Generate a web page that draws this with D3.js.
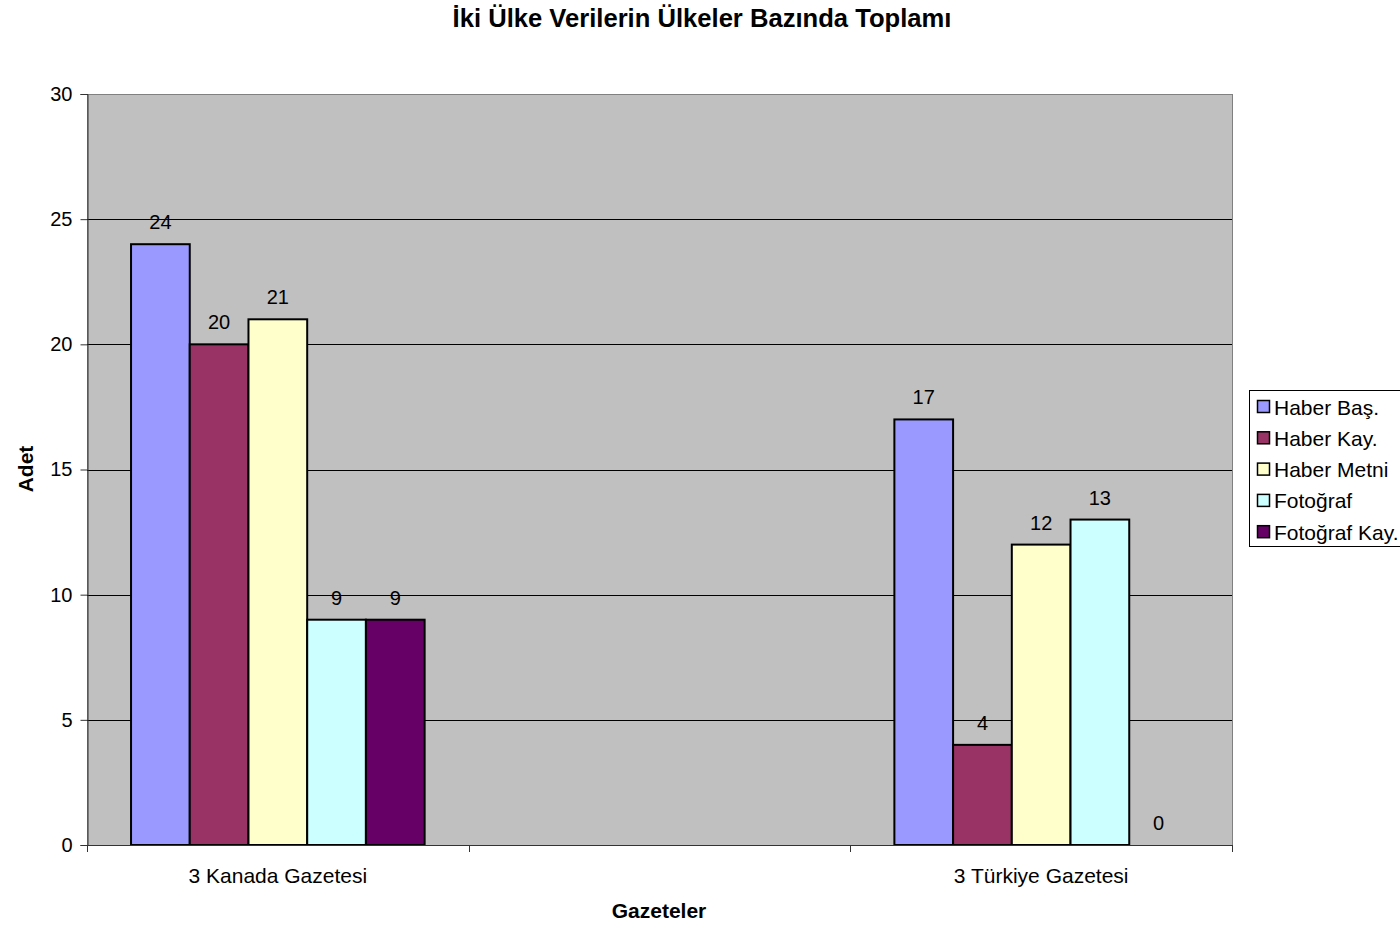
<!DOCTYPE html>
<html>
<head>
<meta charset="utf-8">
<script src="https://cdn.jsdelivr.net/npm/d3@7"></script>
<style>
  html, body { margin: 0; padding: 0; background: #fff; }
  svg { display: block; font-family: "Liberation Sans", Arial, sans-serif; }
</style>
</head>
<body>
<svg id="chart" width="1400" height="926"></svg>
<script>
// Categories (the middle slot is an empty category on the axis)
const categories = ["3 Kanada Gazetesi", "", "3 Türkiye Gazetesi"];
const seriesNames = ["Haber Baş.", "Haber Kay.", "Haber Metni", "Fotoğraf", "Fotoğraf Kay."];
const seriesColors = ["#9999FF", "#993366", "#FFFFCC", "#CCFFFF", "#660066"];
// Values per series: [Kanada, (empty), Türkiye]
const haberBas    = [24, null, 17];
const haberKay    = [20, null, 4];
const haberMetni  = [21, null, 12];
const fotograf    = [9, null, 13];
const fotografKay = [9, null, 0];
const seriesValues = [haberBas, haberKay, haberMetni, fotograf, fotografKay];
const yTicks = [0, 5, 10, 15, 20, 25, 30];

const svg = d3.select("#chart");
const plot = { left: 87, top: 94, right: 1232, bottom: 845 };

const catKeys = categories.map((c, i) => i);
const x0 = d3.scaleBand().domain(catKeys).range([plot.left, plot.right]).paddingInner(0).paddingOuter(0);
// gap width 150% -> inner group occupies 5/(5+1.5) of the category
const groupW = x0.bandwidth() * 5 / 6.5;
const x1 = d3.scaleBand().domain(d3.range(seriesNames.length)).range([0, groupW]).padding(0);
const y = d3.scaleLinear().domain([0, 30]).range([plot.bottom, plot.top]);
const barX = (ci, si) => x0(ci) + (x0.bandwidth() - groupW) / 2 + x1(si);

// Plot background
svg.append("rect")
  .attr("x", plot.left + 0.5).attr("y", plot.top + 0.5)
  .attr("width", plot.right - plot.left).attr("height", plot.bottom - plot.top)
  .attr("fill", "#C0C0C0").attr("stroke", "#808080").attr("stroke-width", 1);

// Gridlines
svg.append("g").selectAll("line").data(yTicks.filter(t => t > 0)).join("line")
  .attr("x1", plot.left).attr("x2", plot.right)
  .attr("y1", d => Math.round(y(d)) + 0.5).attr("y2", d => Math.round(y(d)) + 0.5)
  .attr("stroke", d => d === 30 ? "#808080" : "#000").attr("stroke-width", 1);

// Bars
seriesValues.forEach((vals, si) => {
  svg.append("g").attr("fill", seriesColors[si])
    .selectAll("rect")
    .data(vals.map((v, ci) => ({ v, ci })).filter(d => d.v !== null && d.v > 0))
    .join("rect")
    .attr("x", d => barX(d.ci, si))
    .attr("width", x1.bandwidth())
    .attr("y", d => y(d.v))
    .attr("height", d => y(0) - y(d.v))
    .attr("stroke", "#000").attr("stroke-width", 2);
});

// Data labels
seriesValues.forEach((vals, si) => {
  svg.append("g").selectAll("text")
    .data(vals.map((v, ci) => ({ v, ci })).filter(d => d.v !== null))
    .join("text")
    .attr("x", d => barX(d.ci, si) + x1.bandwidth() / 2)
    .attr("y", d => y(d.v) - 15)
    .attr("text-anchor", "middle")
    .attr("font-size", 20)
    .attr("fill", "#000")
    .text(d => d.v);
});

// Y axis
const yAxis = d3.axisLeft(y).tickValues(yTicks).tickSize(7).tickPadding(8).tickFormat(d3.format("d"));
const yg = svg.append("g").attr("transform", `translate(${plot.left + 0.5},0)`).call(yAxis);
yg.select(".domain").attr("stroke", "#333");
yg.selectAll(".tick line").attr("stroke", "#333");
yg.selectAll(".tick text").attr("font-size", 20).attr("font-family", "Liberation Sans, Arial, sans-serif").attr("fill", "#000");

// X axis: ticks at category boundaries
const boundaries = catKeys.map(k => x0(k)).concat([plot.right]);
const xg = svg.append("g");
xg.append("line").attr("x1", plot.left).attr("x2", plot.right)
  .attr("y1", plot.bottom + 0.5).attr("y2", plot.bottom + 0.5).attr("stroke", "#333");
xg.selectAll("line.tk").data(boundaries).join("line").attr("class", "tk")
  .attr("x1", d => Math.round(d) + 0.5).attr("x2", d => Math.round(d) + 0.5)
  .attr("y1", plot.bottom).attr("y2", plot.bottom + 7).attr("stroke", "#333");
xg.selectAll("text").data(catKeys).join("text")
  .attr("x", d => x0(d) + x0.bandwidth() / 2)
  .attr("y", 883)
  .attr("text-anchor", "middle").attr("font-size", 21).attr("fill", "#000")
  .text(d => categories[d]);

// Titles
svg.append("text").attr("x", 702).attr("y", 27).attr("text-anchor", "middle")
  .attr("font-size", 25.6).attr("font-weight", "bold").text("İki Ülke Verilerin Ülkeler Bazında Toplamı");
svg.append("text").attr("x", 659).attr("y", 918).attr("text-anchor", "middle")
  .attr("font-size", 21).attr("font-weight", "bold").text("Gazeteler");
svg.append("text").attr("transform", "translate(33,469) rotate(-90)").attr("text-anchor", "middle")
  .attr("font-size", 21).attr("font-weight", "bold").text("Adet");

// Legend
const legend = svg.append("g");
legend.append("rect").attr("x", 1249.5).attr("y", 390.5).attr("width", 160).attr("height", 156)
  .attr("fill", "#fff").attr("stroke", "#000").attr("stroke-width", 1);
const items = legend.selectAll("g").data(seriesNames).join("g")
  .attr("transform", (d, i) => `translate(0,${407 + i * 31.3})`);
items.append("rect").attr("x", 1257.5).attr("y", -6.5).attr("width", 12).attr("height", 12)
  .attr("fill", (d, i) => seriesColors[i]).attr("stroke", "#000").attr("stroke-width", 1.5);
items.append("text").attr("x", 1274).attr("y", 7.5).attr("font-size", 21).attr("fill", "#000").text(d => d);
</script>
</body>
</html>
